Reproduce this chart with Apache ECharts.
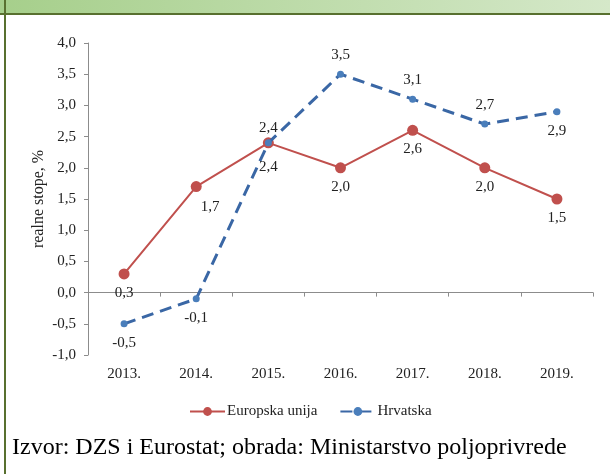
<!DOCTYPE html>
<html>
<head>
<meta charset="utf-8">
<title>Realne stope</title>
<script src="https://cdn.jsdelivr.net/npm/echarts@6/dist/echarts.min.js"></script>
<style>
  html, body { margin: 0; padding: 0; background: #fff; }
  #chart { width: 610px; height: 474px; }
</style>
</head>
<body>
<div id="chart"></div>
<script>
// podaci
const years = ['2013.', '2014.', '2015.', '2016.', '2017.', '2018.', '2019.']
const euValues = [0.3, 1.7, 2.4, 2.0, 2.6, 2.0, 1.5]
const hrValues = [-0.5, -0.1, 2.4, 3.5, 3.1, 2.7, 2.9]
const seriesNames = ['Europska unija', 'Hrvatska']
const yMin = -1
const yMax = 4
const yStep = 0.5

const font = 'Liberation Serif, Times New Roman, serif'
const fmt = v => v.toFixed(1).replace('.', ',')

// where each value label sits
const euLabelPos = ['bottom', 'bottom', 'top', 'bottom', 'bottom', 'bottom', 'bottom']
const hrLabelPos = ['bottom', 'bottom', 'bottom', 'top', 'top', 'top', 'bottom']

function withLabels(values, positions, extra) {
  return values.map((v, i) => {
    const label = { position: positions[i] }
    if (extra && extra[i]) Object.assign(label, extra[i])
    return { value: v, label: label }
  })
}

const chart = echarts.init(document.getElementById('chart'))
chart.setOption({
  animation: false,
  textStyle: { fontFamily: font },
  graphic: [
    {
      type: 'rect',
      shape: { x: 0, y: 0, width: 610, height: 13 },
      style: {
        fill: new echarts.graphic.LinearGradient(0, 0, 1, 0, [
          { offset: 0, color: '#a6cf8b' },
          { offset: 1, color: '#d5e8c9' }
        ])
      },
      silent: true
    },
    {
      type: 'rect',
      shape: { x: 0, y: 13, width: 610, height: 2 },
      style: { fill: '#58702f' },
      silent: true
    },
    {
      type: 'rect',
      shape: { x: 4, y: 0, width: 2, height: 474 },
      style: { fill: '#58702f' },
      silent: true
    },
    {
      type: 'text',
      left: 12,
      top: 436,
      style: {
        text: 'Izvor: DZS i Eurostat; obrada: Ministarstvo poljoprivrede',
        font: '24px ' + font,
        fill: '#000'
      },
      silent: true
    }
  ],
  grid: {
    left: 88,
    right: 17,
    top: 43,
    bottom: 119
  },
  legend: {
    data: seriesNames,
    left: 184,
    top: 399,
    itemWidth: 35,
    itemHeight: 11,
    itemGap: 22,
    textStyle: { fontFamily: font, fontSize: 15, color: '#222', padding: [0, 0, 0, -3] }
  },
  xAxis: [
    {
      type: 'category',
      data: years,
      boundaryGap: true,
      axisLine: { onZero: true, lineStyle: { color: '#8c8c8c', width: 1 } },
      axisTick: { show: true, length: 4, lineStyle: { color: '#8c8c8c' } },
      axisLabel: { show: false }
    },
    {
      type: 'category',
      data: years,
      position: 'bottom',
      boundaryGap: true,
      axisLine: { show: false, onZero: false },
      axisTick: { show: false },
      axisLabel: { margin: 12, fontFamily: font, fontSize: 15, color: '#222' }
    }
  ],
  yAxis: {
    type: 'value',
    min: yMin,
    max: yMax,
    interval: yStep,
    name: 'realne stope, %',
    nameLocation: 'middle',
    nameGap: 41,
    nameMoveOverlap: false,
    nameTextStyle: { fontFamily: font, fontSize: 16, color: '#222' },
    axisLine: { show: true, lineStyle: { color: '#8c8c8c', width: 1 } },
    axisTick: { show: true, length: 4, lineStyle: { color: '#8c8c8c' } },
    splitLine: { show: false },
    axisLabel: {
      margin: 12,
      fontFamily: font,
      fontSize: 15,
      color: '#222',
      formatter: fmt
    }
  },
  series: [
    {
      name: seriesNames[0],
      type: 'line',
      data: withLabels(euValues, euLabelPos, {
        1: { offset: [14, 0], distance: 8 },
        2: { distance: 2 }
      }),
      symbol: 'circle',
      symbolSize: 11,
      z: 3,
      itemStyle: { color: '#c0504d' },
      lineStyle: { color: '#c0504d', width: 2 },
      label: {
        show: true,
        distance: 6,
        fontFamily: font,
        fontSize: 15,
        color: '#222',
        formatter: p => fmt(p.value)
      }
    },
    {
      name: seriesNames[1],
      type: 'line',
      data: withLabels(hrValues, hrLabelPos, {
        2: { distance: 13 }
      }),
      symbol: 'circle',
      symbolSize: 7,
      z: 4,
      itemStyle: { color: '#4a7ebb' },
      lineStyle: { color: '#3a67a5', width: 3, type: [12, 7] },
      label: {
        show: true,
        distance: 8,
        fontFamily: font,
        fontSize: 15,
        color: '#222',
        formatter: p => fmt(p.value)
      }
    }
  ]
})
</script>
</body>
</html>
